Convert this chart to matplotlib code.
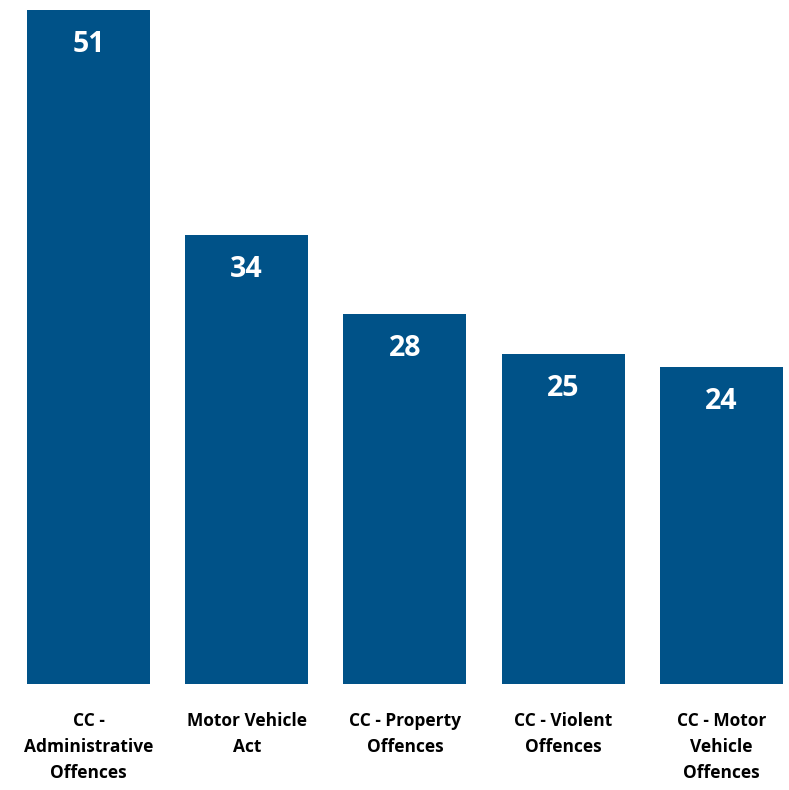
import matplotlib
matplotlib.use('Agg')
import matplotlib.pyplot as plt

categories = ['CC -\nAdministrative\nOffences', 'Motor Vehicle\nAct', 'CC - Property\nOffences',
              'CC - Violent\nOffences', 'CC - Motor\nVehicle\nOffences']
values = [51, 34, 28, 25, 24]

BAR_COLOR = '#005288'
plt.rcParams['font.family'] = ['Open Sans', 'DejaVu Sans']

fig = plt.figure(figsize=(7.89, 7.90), dpi=100)
ax = fig.add_axes([0, 1 - 684 / 790, 1, 684 / 790])

x = list(range(len(values)))
bars = ax.bar(x, values, width=0.777, color=BAR_COLOR)
for b, v in zip(bars, values):
    ax.annotate(str(v), (b.get_x() + b.get_width() / 2, v), xytext=(0, -25),
                textcoords='offset points', ha='center', va='center',
                color='white', fontsize=20.5, fontweight='bold')

ax.set_xlim(-0.559, 4.427)
ax.set_ylim(0, 51.76)
ax.set_xticks(x)
ax.set_xticklabels(categories, fontsize=12.5, fontweight='bold', linespacing=1.58)
ax.tick_params(axis='x', length=0, pad=20)
ax.set_yticks([])
for s in ax.spines.values():
    s.set_visible(False)

fig.savefig('out.png', dpi=100)
